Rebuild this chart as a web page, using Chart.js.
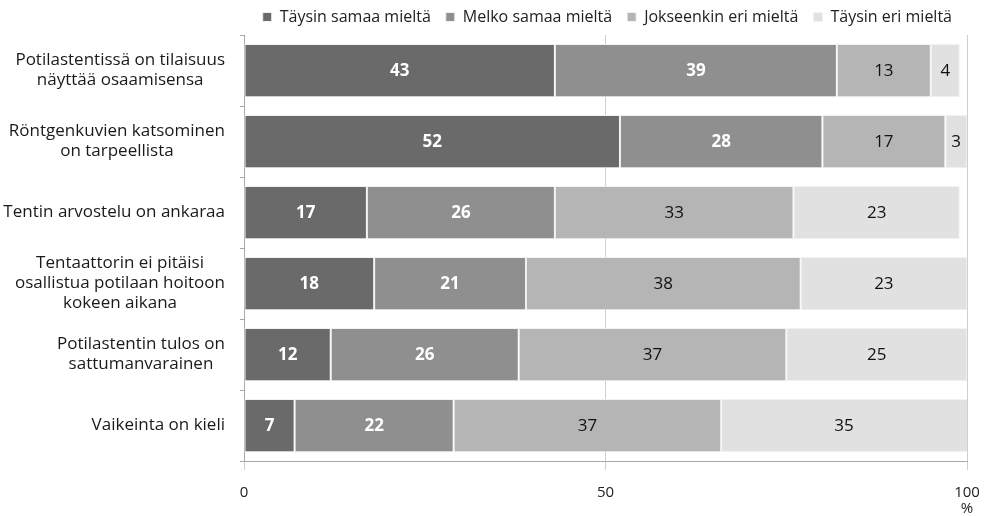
<!DOCTYPE html>
<html>
<head>
<meta charset="utf-8">
<script src="https://cdn.jsdelivr.net/npm/chart.js@4/dist/chart.umd.min.js"></script>
<style>
  html, body { margin: 0; padding: 0; background: #fff; }
  #wrap { width: 990px; height: 516px; }
</style>
</head>
<body>
<div id="wrap"><canvas id="myChart" width="990" height="516"></canvas></div>
<script>
const categories = [
    ['Potilastentissä on tilaisuus', 'näyttää osaamisensa'],
    ['Röntgenkuvien katsominen', 'on tarpeellista'],
    ['Tentin arvostelu on ankaraa'],
    ['Tentaattorin ei pitäisi', 'osallistua potilaan hoitoon', 'kokeen aikana'],
    ['Potilastentin tulos on', 'sattumanvarainen'],
    ['Vaikeinta on kieli']
];
const seriesNames = ['Täysin samaa mieltä', 'Melko samaa mieltä', 'Jokseenkin eri mieltä', 'Täysin eri mieltä'];
const taysinSamaa = [43, 52, 17, 18, 12, 7];
const melkoSamaa = [39, 28, 26, 21, 26, 22];
const jokseenkinEri = [13, 17, 33, 38, 37, 37];
const taysinEri = [4, 3, 23, 23, 25, 35];
const xTicks = [0, 50, 100];
const unit = '%';

const colors = ['#6a6a6a', '#8f8f8f', '#b5b5b5', '#e1e1e1'];
const labelColors = ['#ffffff', '#ffffff', '#111111', '#111111'];
const FONT = '"Open Sans"';

// numbers in the middle of each segment
const barValues = {
    id: 'barValues',
    afterDatasetsDraw(chart) {
        const ctx = chart.ctx;
        ctx.save();
        ctx.textAlign = 'center';
        ctx.textBaseline = 'middle';
        chart.data.datasets.forEach(function (ds, i) {
            const meta = chart.getDatasetMeta(i);
            ctx.fillStyle = labelColors[i];
            ctx.font = (i < 2 ? 'bold ' : '') + '17px ' + FONT;
            meta.data.forEach(function (bar, j) {
                const right = Math.min(bar.x, chart.chartArea.right);
                ctx.fillText(ds.data[j], (right + bar.base) / 2, bar.y + 1);
            });
        });
        ctx.restore();
    }
};

// category labels: lines centred inside a right-aligned block
const categoryLabels = {
    id: 'categoryLabels',
    afterDraw(chart) {
        const ctx = chart.ctx;
        const yScale = chart.scales.y;
        const lineHeight = 20;
        ctx.save();
        ctx.font = '17px ' + FONT;
        ctx.fillStyle = '#1a1a1a';
        ctx.textAlign = 'center';
        ctx.textBaseline = 'middle';
        categories.forEach(function (lines, i) {
            const widths = lines.map(function (l) { return ctx.measureText(l).width; });
            const blockW = Math.max.apply(null, widths);
            const cx = yScale.right - 19 - blockW / 2;
            const cy = yScale.getPixelForValue(i);
            const top = cy - (lines.length - 1) * lineHeight / 2;
            lines.forEach(function (l, k) {
                ctx.fillText(l, cx, top + k * lineHeight);
            });
        });
        ctx.restore();
    }
};

var ctx = document.getElementById('myChart');
var myChart = new Chart(ctx, {
    type: 'bar',
    data: {
        labels: categories,
        datasets: [taysinSamaa, melkoSamaa, jokseenkinEri, taysinEri].map(function (values, i) {
            return {
                label: seriesNames[i],
                data: values,
                backgroundColor: colors[i],
                borderColor: '#f2f2f2',
                borderWidth: 1,
                borderSkipped: false,
                barPercentage: 0.75,
                categoryPercentage: 1
            };
        })
    },
    plugins: [barValues, categoryLabels],
    options: {
        indexAxis: 'y',
        responsive: false,
        animation: false,
        layout: {
            padding: { left: 0, right: 23, top: -6, bottom: 0 }
        },
        plugins: {
            legend: {
                position: 'top',
                align: 'end',
                labels: {
                    boxWidth: 9,
                    boxHeight: 9,
                    padding: 15,
                    color: '#222',
                    font: { family: FONT, size: 16 }
                }
            },
            tooltip: { enabled: false }
        },
        scales: {
            x: {
                stacked: true,
                min: 0,
                max: 100,
                afterBuildTicks(scale) {
                    scale.ticks = xTicks.map(function (v) { return { value: v }; });
                },
                afterFit(scale) {
                    scale.height = 55;
                    scale.paddingLeft = 0;
                    scale.paddingRight = 0;
                },
                grid: {
                    color: '#cfcfcf',
                    tickLength: 9,
                    drawOnChartArea: true
                },
                border: { color: '#a8a8a8' },
                ticks: {
                    color: '#222',
                    padding: 15,
                    font: { family: FONT, size: 15, lineHeight: 1.05 },
                    // unit sits under the last tick
                    callback: function (value) {
                        return value === xTicks[xTicks.length - 1] ? [String(value), unit] : String(value);
                    }
                }
            },
            y: {
                stacked: true,
                afterFit(scale) { scale.width = 244; },
                grid: {
                    offset: true,
                    drawOnChartArea: false,
                    tickLength: 4,
                    color: '#a8a8a8'
                },
                border: { color: '#a8a8a8' },
                ticks: { display: false }
            }
        }
    }
});
</script>
</body>
</html>
